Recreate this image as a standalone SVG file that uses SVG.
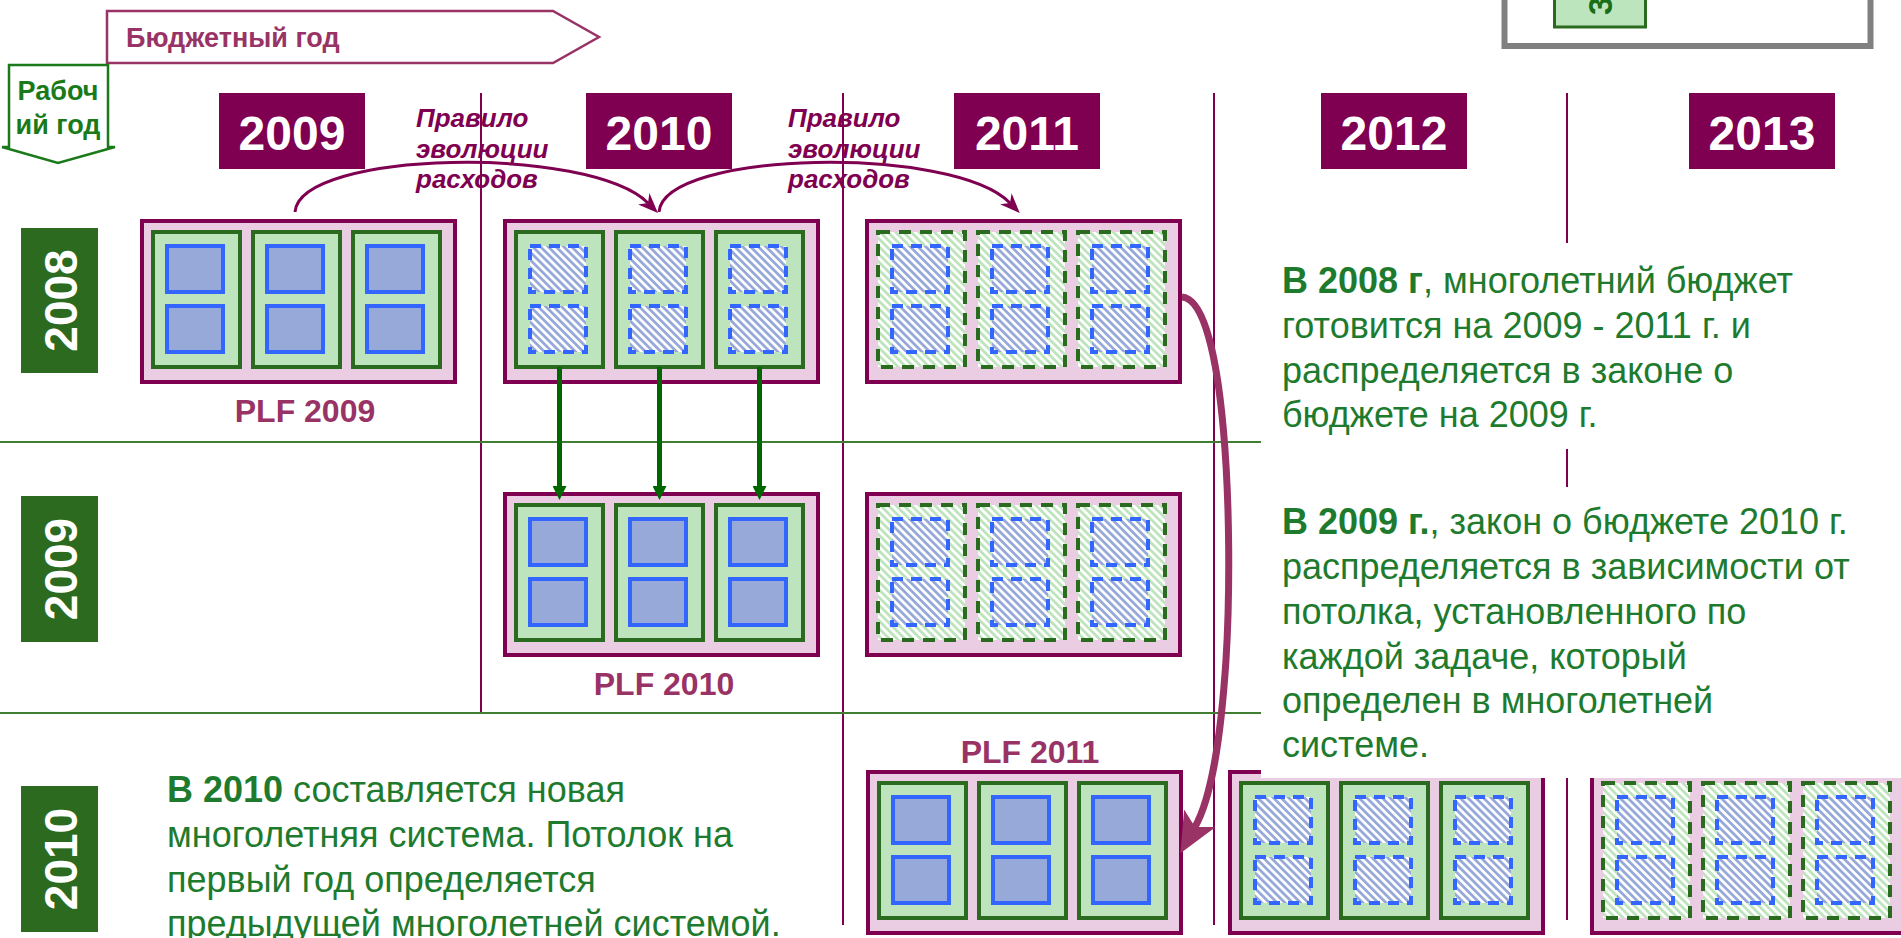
<svg xmlns="http://www.w3.org/2000/svg" xmlns:xlink="http://www.w3.org/1999/xlink" width="1901" height="938" viewBox="0 0 1901 938">
<style>
  text { font-family: "Liberation Sans", Arial, sans-serif; }
  .yearBox { fill: #7F0050; }
  .yearTxt { fill: #FFFFFF; font-size: 48px; font-weight: bold; text-anchor: middle; }
  .rowBox { fill: #2C6B1F; }
  .rowTxt { fill: #FFFFFF; font-size: 46px; font-weight: bold; text-anchor: middle; }
  .vline { stroke: #7F0050; stroke-width: 2; fill: none; }
  .hline { stroke: #3F7F2F; stroke-width: 2; fill: none; }
  .outer { fill: #EACDE3; stroke: #7F0050; stroke-width: 4; }
  .inner { fill: #BDE4BC; stroke: #2A6B1F; stroke-width: 4; }
  .innerH { fill: url(#hatchG); stroke: #2A6B1F; stroke-width: 4; stroke-dasharray: 12 9; }
  .blue { fill: #97A9D8; stroke: #3366FF; stroke-width: 4; }
  .blueH { fill: url(#hatchB); stroke: #3366FF; stroke-width: 4; stroke-dasharray: 11 8; }
  .plf { fill: #993366; font-size: 32px; font-weight: bold; text-anchor: middle; }
  .rule { fill: #7F0050; font-size: 26px; font-weight: bold; font-style: italic; }
  .body { fill: #1E7B2E; font-size: 36px; }
  .b { font-weight: bold; }
  .arcArrow { stroke: #7F0050; stroke-width: 3; fill: none; }
  .greenArrow { stroke: #006600; stroke-width: 5; fill: none; }
  .bigArrow { stroke: #993366; stroke-width: 7; fill: none; }
</style>
<defs>
  <pattern id="hatchB" width="5.5" height="5.5" patternUnits="userSpaceOnUse" patternTransform="rotate(-45)">
    <rect width="5.5" height="5.5" fill="#FFFFFF"/>
    <rect width="2.8" height="5.5" fill="#97A9D8"/>
  </pattern>
  <pattern id="hatchG" width="5.5" height="5.5" patternUnits="userSpaceOnUse" patternTransform="rotate(-45)">
    <rect width="5.5" height="5.5" fill="#FFFFFF"/>
    <rect width="2.8" height="5.5" fill="#BDE4BC"/>
  </pattern>
  <marker id="smallHead" viewBox="0 0 20 16" refX="6" refY="8" markerWidth="20" markerHeight="16" markerUnits="userSpaceOnUse" orient="auto">
    <path d="M0,0 L20,8 L0,16 L6,8 z" fill="#7F0050"/>
  </marker>
  <marker id="greenHead" viewBox="0 0 14 14" refX="2" refY="7" markerWidth="14" markerHeight="14" markerUnits="userSpaceOnUse" orient="auto">
    <path d="M0,0 L14,7 L0,14 z" fill="#006600"/>
  </marker>
  <marker id="bigHead" viewBox="0 0 40 36" refX="10" refY="18" markerWidth="40" markerHeight="36" markerUnits="userSpaceOnUse" orient="auto">
    <path d="M0,0 L40,18 L0,36 L10,18 z" fill="#993366"/>
  </marker>
  <g id="boxA">
    <rect class="outer" x="0" y="0" width="313" height="161"/>
    <rect class="inner" x="11" y="11" width="87" height="135"/>
    <rect class="inner" x="111" y="11" width="87" height="135"/>
    <rect class="inner" x="211" y="11" width="87" height="135"/>
    <rect class="blue" x="25" y="25" width="56" height="46"/>
    <rect class="blue" x="25" y="85" width="56" height="46"/>
    <rect class="blue" x="125" y="25" width="56" height="46"/>
    <rect class="blue" x="125" y="85" width="56" height="46"/>
    <rect class="blue" x="225" y="25" width="56" height="46"/>
    <rect class="blue" x="225" y="85" width="56" height="46"/>
  </g>
  <g id="boxB">
    <rect class="outer" x="0" y="0" width="313" height="161"/>
    <rect class="inner" x="11" y="11" width="87" height="135"/>
    <rect class="inner" x="111" y="11" width="87" height="135"/>
    <rect class="inner" x="211" y="11" width="87" height="135"/>
    <rect class="blueH" x="25" y="25" width="56" height="46"/>
    <rect class="blueH" x="25" y="85" width="56" height="46"/>
    <rect class="blueH" x="125" y="25" width="56" height="46"/>
    <rect class="blueH" x="125" y="85" width="56" height="46"/>
    <rect class="blueH" x="225" y="25" width="56" height="46"/>
    <rect class="blueH" x="225" y="85" width="56" height="46"/>
  </g>
  <g id="boxC">
    <rect class="outer" x="0" y="0" width="313" height="161"/>
    <rect class="innerH" x="11" y="11" width="87" height="135"/>
    <rect class="innerH" x="111" y="11" width="87" height="135"/>
    <rect class="innerH" x="211" y="11" width="87" height="135"/>
    <rect class="blueH" x="25" y="25" width="56" height="46"/>
    <rect class="blueH" x="25" y="85" width="56" height="46"/>
    <rect class="blueH" x="125" y="25" width="56" height="46"/>
    <rect class="blueH" x="125" y="85" width="56" height="46"/>
    <rect class="blueH" x="225" y="25" width="56" height="46"/>
    <rect class="blueH" x="225" y="85" width="56" height="46"/>
  </g>
</defs>

<rect width="1901" height="938" fill="#FFFFFF"/>

<!-- grid lines -->
<g id="grid">
  <line class="vline" x1="481" y1="93" x2="481" y2="713"/>
  <line class="vline" x1="843" y1="93" x2="843" y2="925"/>
  <line class="vline" x1="1214" y1="93" x2="1214" y2="925"/>
  <line class="vline" x1="1567" y1="93" x2="1567" y2="920"/>
  <line class="hline" x1="0" y1="442" x2="1262" y2="442"/>
  <line class="hline" x1="0" y1="713" x2="1262" y2="713"/>
</g>

<!-- legend remnant top right -->
<g id="legend">
  <rect x="1504.5" y="-20" width="366" height="66" fill="#FFFFFF" stroke="#808080" stroke-width="6"/>
  <rect x="1554.5" y="-20" width="91" height="47" fill="#BDE5BD" stroke="#2A6B1F" stroke-width="3"/>
  <text transform="translate(1612,15) rotate(-90)" fill="#1A6E1A" font-size="33" font-weight="bold">3</text>
</g>

<!-- header arrows -->
<g id="budgetYear">
  <polygon points="107,11 553,11 599,37 553,63 107,63" fill="#FFFFFF" stroke="#993366" stroke-width="2.5"/>
  <text x="126" y="47" fill="#993366" font-size="27" font-weight="bold">Бюджетный год</text>
</g>
<g id="workYear">
  <polygon points="9,65 108,65 108,147 115,147 58,163 2,147 9,147" fill="#FFFFFF" stroke="#1A7A1A" stroke-width="2.5"/>
  <text x="58" y="100" fill="#1A7A1A" font-size="27" font-weight="bold" text-anchor="middle">Рабоч</text>
  <text x="58" y="134" fill="#1A7A1A" font-size="27" font-weight="bold" text-anchor="middle">ий год</text>
</g>

<!-- year headers -->
<g id="y2009"><rect class="yearBox" x="219" y="93" width="146" height="76"/><text class="yearTxt" x="292" y="150">2009</text></g>
<g id="y2010"><rect class="yearBox" x="586" y="93" width="146" height="76"/><text class="yearTxt" x="659" y="150">2010</text></g>
<g id="y2011"><rect class="yearBox" x="954" y="93" width="146" height="76"/><text class="yearTxt" x="1027" y="150">2011</text></g>
<g id="y2012"><rect class="yearBox" x="1321" y="93" width="146" height="76"/><text class="yearTxt" x="1394" y="150">2012</text></g>
<g id="y2013"><rect class="yearBox" x="1689" y="93" width="146" height="76"/><text class="yearTxt" x="1762" y="150">2013</text></g>

<!-- row labels -->
<g id="r2008"><rect class="rowBox" x="21" y="228" width="77" height="145"/><text class="rowTxt" transform="translate(77,300.5) rotate(-90)">2008</text></g>
<g id="r2009"><rect class="rowBox" x="21" y="496" width="77" height="146"/><text class="rowTxt" transform="translate(77,569) rotate(-90)">2009</text></g>
<g id="r2010"><rect class="rowBox" x="21" y="786" width="77" height="146"/><text class="rowTxt" transform="translate(77,859) rotate(-90)">2010</text></g>

<!-- PLF boxes -->
<g id="plf2009_r2008"><use xlink:href="#boxA" href="#boxA" x="142" y="221"/><text class="plf" x="305" y="422">PLF 2009</text></g>
<g id="plf2010_r2008"><use xlink:href="#boxB" href="#boxB" x="505" y="221"/></g>
<g id="plf2011_r2008"><use xlink:href="#boxC" href="#boxC" x="867" y="221"/></g>
<g id="plf2010_r2009"><use xlink:href="#boxA" href="#boxA" x="505" y="494"/><text class="plf" x="664" y="695">PLF 2010</text></g>
<g id="plf2011_r2009"><use xlink:href="#boxC" href="#boxC" x="867" y="494"/></g>
<g id="plf2011_r2010"><use xlink:href="#boxA" href="#boxA" x="868" y="772"/><text class="plf" x="1030" y="763">PLF 2011</text></g>
<g id="plf2012_r2010"><use xlink:href="#boxB" href="#boxB" x="1230" y="772"/></g>
<g id="plf2013_r2010"><use xlink:href="#boxC" href="#boxC" x="1592" y="772"/></g>

<!-- connectors -->
<g id="connectors">
  <path class="arcArrow" d="M295,212 C300,150 590,145 648,203" marker-end="url(#smallHead)"/>
  <path class="arcArrow" d="M659,212 C664,150 954,145 1010,203" marker-end="url(#smallHead)"/>
  <line class="greenArrow" x1="559.5" y1="367" x2="559.5" y2="488" marker-end="url(#greenHead)"/>
  <line class="greenArrow" x1="659.5" y1="367" x2="659.5" y2="488" marker-end="url(#greenHead)"/>
  <line class="greenArrow" x1="759.5" y1="367" x2="759.5" y2="488" marker-end="url(#greenHead)"/>
  <path class="bigArrow" d="M1182,297 C1226,300 1234,530 1226,660 C1220,750 1210,800 1195,827" marker-end="url(#bigHead)"/>
</g>

<!-- rule labels -->
<g id="rule1">
  <text class="rule" x="416" y="127">Правило</text>
  <text class="rule" x="416" y="158">эволюции</text>
  <text class="rule" x="416" y="188">расходов</text>
</g>
<g id="rule2">
  <text class="rule" x="788" y="127">Правило</text>
  <text class="rule" x="788" y="158">эволюции</text>
  <text class="rule" x="788" y="188">расходов</text>
</g>

<!-- explanatory texts -->
<g id="note2008">
  <rect x="1261" y="243" width="640" height="206" fill="#FFFFFF"/>
  <text class="body" x="1282" y="293"><tspan class="b">В 2008 г</tspan>, многолетний бюджет</text>
  <text class="body" x="1282" y="338">готовится на 2009 - 2011 г. и</text>
  <text class="body" x="1282" y="383">распределяется в законе о</text>
  <text class="body" x="1282" y="427">бюджете на 2009 г.</text>
</g>
<g id="note2009">
  <rect x="1261" y="487" width="640" height="291" fill="#FFFFFF"/>
  <text class="body" x="1282" y="534"><tspan class="b">В 2009 г.</tspan>, закон о бюджете 2010 г.</text>
  <text class="body" x="1282" y="579">распределяется в зависимости от</text>
  <text class="body" x="1282" y="624">потолка, установленного по</text>
  <text class="body" x="1282" y="669">каждой задаче, который</text>
  <text class="body" x="1282" y="713">определен в многолетней</text>
  <text class="body" x="1282" y="757">системе.</text>
</g>
<g id="note2010">
  <text class="body" x="167" y="802"><tspan class="b">В 2010</tspan> составляется новая</text>
  <text class="body" x="167" y="847">многолетняя система. Потолок на</text>
  <text class="body" x="167" y="892">первый год определяется</text>
  <text class="body" x="167" y="936">предыдущей многолетней системой.</text>
</g>
</svg>
